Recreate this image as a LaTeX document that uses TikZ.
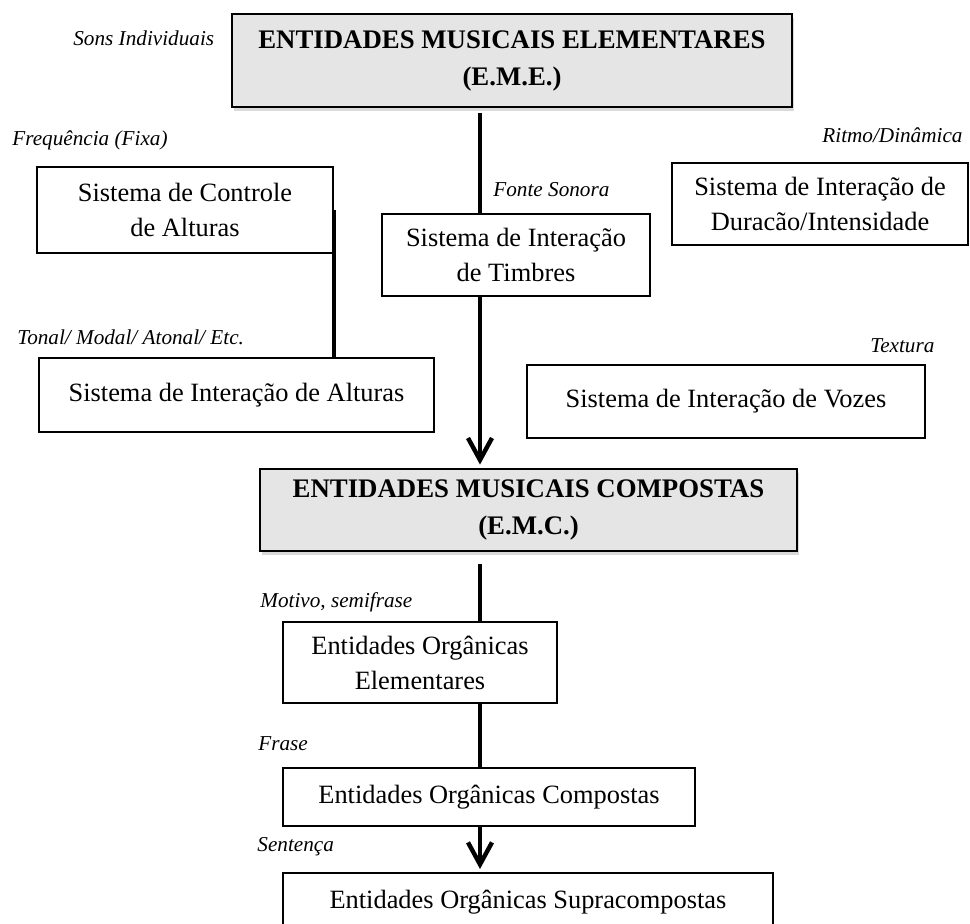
\documentclass[tikz,border=0pt]{standalone}
\usepackage{fontspec}
\setmainfont{Liberation Serif}
\usetikzlibrary{arrows.meta,shadows}

\begin{document}
\begin{tikzpicture}[x=0.5pt,y=-0.5pt,
  caixa/.style={draw,line width=1pt,fill=white,align=center,inner sep=0pt,
    font=\fontsize{13.2}{17.5}\selectfont},
  titulo/.style={caixa,line width=1.4pt,fill=black!10,
    font=\fontsize{13.4}{18.5}\selectfont\bfseries,
    drop shadow={opacity=0.3,shadow xshift=1pt,shadow yshift=-2pt}},
  rotulo/.style={anchor=west,inner sep=0pt,font=\fontsize{10.6}{13}\selectfont\itshape},
  eixo/.style={line width=2.2pt},
  seta/.style={eixo,-{Straight Barb[length=11pt,width=12pt]}}]
\clip (0,0) rectangle (970,924);
\coordinate (linha) at (480,0);
% caixas
\node[titulo,minimum width=280pt,minimum height=46.5pt] (eme) at (512,60.5) {ENTIDADES MUSICAIS ELEMENTARES\\(E.M.E.)};
\node[caixa,minimum width=148pt,minimum height=43pt] (controle) at (185,210) {Sistema de Controle\\de Alturas};
\node[caixa,minimum width=134pt,minimum height=41pt] (timbres) at (516,255) {Sistema de Interação\\de Timbres};
\node[caixa,minimum width=148pt,minimum height=41pt] (duracao) at (820,204) {Sistema de Interação de\\Duracão/Intensidade};
\node[caixa,minimum width=197.5pt,minimum height=37pt] (alturas) at (236.5,395) {Sistema de Interação de Alturas};
\node[caixa,minimum width=199pt,minimum height=36.5pt] (vozes) at (726,401.5) {Sistema de Interação de Vozes};
\node[titulo,minimum width=268.5pt,minimum height=41pt] (emc) at (528.5,510) {ENTIDADES MUSICAIS COMPOSTAS\\(E.M.C.)};
\node[caixa,minimum width=137pt,minimum height=40.5pt] (elem) at (420,662.5) {Entidades Orgânicas\\Elementares};
\node[caixa,minimum width=206pt,minimum height=29pt] (comp) at (489,797) {Entidades Orgânicas Compostas};
\node[caixa,minimum width=245pt,minimum height=29pt] (supra) at (528,902) {Entidades Orgânicas Supracompostas};
% rotulos
\node[rotulo] (sons) at (73,38) {Sons Individuais};
\node[rotulo] (freq) at (12,140) {Frequência (Fixa)};
\node[rotulo] (fonte) at (493,190) {Fonte Sonora};
\node[rotulo] (ritmo) at (822,135) {Ritmo/Dinâmica};
\node[rotulo] (tonal) at (17,337) {Tonal/ Modal/ Atonal/ Etc.};
\node[rotulo] (textura) at (870,346) {Textura};
\node[rotulo] (motivo) at (260,602) {Motivo, semifrase};
\node[rotulo] (frase) at (258,744) {Frase};
\node[rotulo] (sentenca) at (257,847) {Sentença};
% ligacoes
\draw[eixo,shorten <=2.5pt] (eme.south -| linha) -- (timbres.north -| linha);
\draw[seta,shorten >=1.5pt] (timbres.south -| linha) -- (emc.north -| linha);
\draw[eixo,shorten <=6pt] (emc.south -| linha) -- (elem.north -| linha);
\draw[eixo] (elem.south -| linha) -- (comp.north -| linha);
\draw[seta,shorten >=1.5pt] (comp.south -| linha) -- (supra.north -| linha);
\draw[eixo] (controle.east) -- (controle.east |- alturas.north);
\end{tikzpicture}
\end{document}
